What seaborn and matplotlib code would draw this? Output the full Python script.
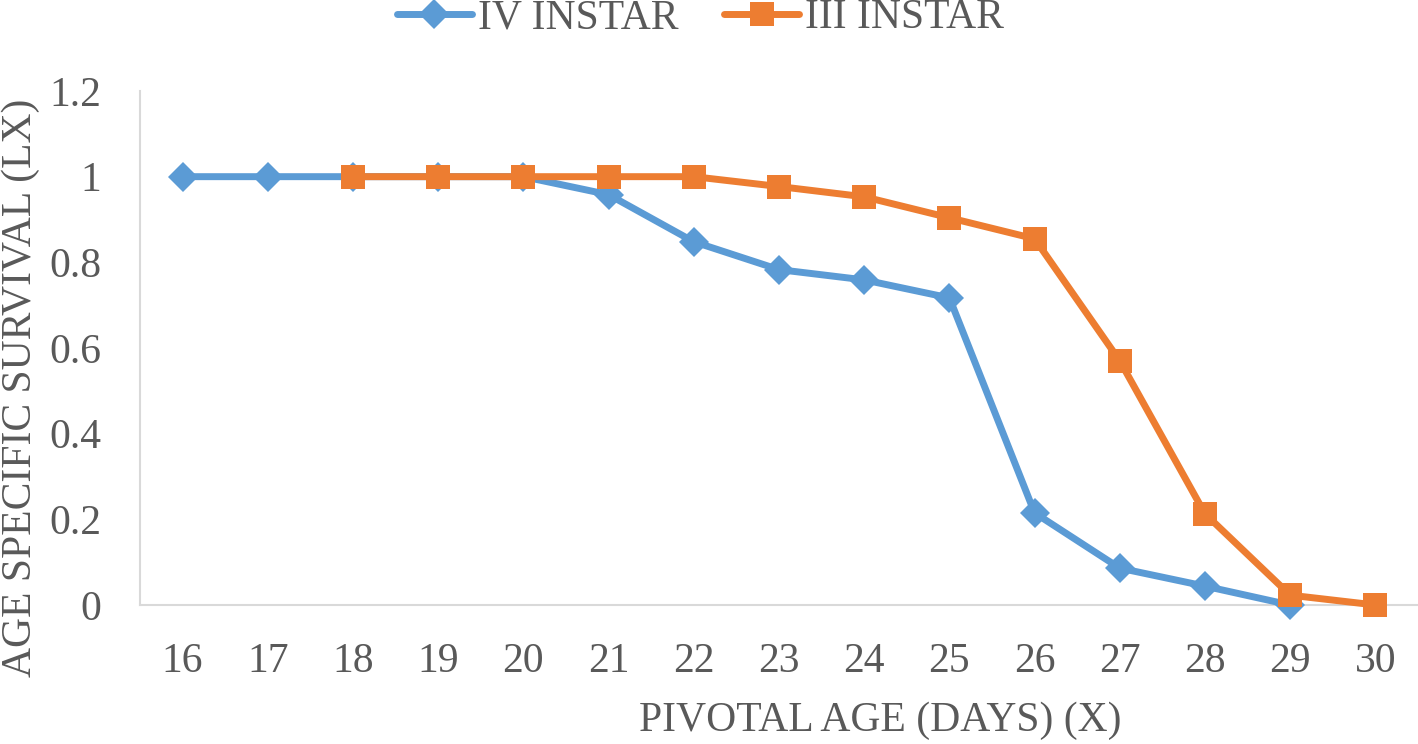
import matplotlib
matplotlib.use("Agg")
import matplotlib.pyplot as plt
import seaborn as sns
import pandas as pd

days = [16, 17, 18, 19, 20, 21, 22, 23, 24, 25, 26, 27, 28, 29, 30]
iv_days = [16, 17, 18, 19, 20, 21, 22, 23, 24, 25, 26, 27, 28, 29]
iv_lx = [1.0, 1.0, 1.0, 1.0, 1.0, 0.958, 0.848, 0.783, 0.759, 0.717, 0.215, 0.086, 0.044, 0.0]
iii_days = [18, 19, 20, 21, 22, 23, 24, 25, 26, 27, 28, 29, 30]
iii_lx = [1.0, 1.0, 1.0, 1.0, 1.0, 0.977, 0.953, 0.904, 0.855, 0.570, 0.213, 0.023, 0.0]
y_ticks = [0, 0.2, 0.4, 0.6, 0.8, 1, 1.2]
y_tick_labels = ["0", "0.2", "0.4", "0.6", "0.8", "1", "1.2"]

sns.set_theme(style="white")
plt.rcParams['font.family'] = ['Liberation Serif', 'DejaVu Serif']
text_color = "#595959"
fs = 30

fig = plt.figure(figsize=(14.18, 7.44), dpi=100)
ax = fig.add_axes([140 / 1418, (744 - 605) / 744, 1278 / 1418, (605 - 91) / 744])

df_iv = pd.DataFrame({"day": iv_days, "lx": iv_lx})
df_iii = pd.DataFrame({"day": iii_days, "lx": iii_lx})

sns.lineplot(data=df_iv, x="day", y="lx", ax=ax, color="#5B9BD5", linewidth=5,
             marker="D", markersize=15, markeredgewidth=0, label="IV INSTAR", clip_on=False)
sns.lineplot(data=df_iii, x="day", y="lx", ax=ax, color="#ED7D31", linewidth=5,
             marker="s", markersize=17, markeredgewidth=0, label="III INSTAR", clip_on=False)

ax.set_xlim(days[0] - 0.5, days[-1] + 0.5)
ax.set_ylim(0, 1.2)
ax.set_xticks(days)
ax.set_xticklabels([str(d) for d in days])
ax.set_yticks(y_ticks)
ax.set_yticklabels(y_tick_labels)
ax.tick_params(axis="both", length=0, labelsize=fs, colors=text_color)
ax.tick_params(axis="x", pad=27)
ax.tick_params(axis="y", pad=28)

for s in ["top", "right"]:
    ax.spines[s].set_visible(False)
for s in ["left", "bottom"]:
    ax.spines[s].set_color("#D9D9D9")
    ax.spines[s].set_linewidth(1.5)
    ax.spines[s].set_zorder(0)

ax.set_xlabel("PIVOTAL AGE (DAYS) (X)", fontsize=fs, color=text_color)
ax.set_ylabel("AGE SPECIFIC SURVIVAL (LX)", fontsize=fs, color=text_color)
ax.xaxis.set_label_coords(0.579, -0.187)
ax.yaxis.set_label_coords(-0.078, 0.422)

leg = ax.legend(loc="center", ncol=2, frameon=False, fontsize=fs, handlelength=1.8,
                columnspacing=1.1, handletextpad=0.15)
for t in leg.get_texts():
    t.set_color(text_color)
leg.set_bbox_to_anchor((0.494, 1 - 18 / 744), transform=fig.transFigure)

fig.savefig("out.png", dpi=100, facecolor="white")
